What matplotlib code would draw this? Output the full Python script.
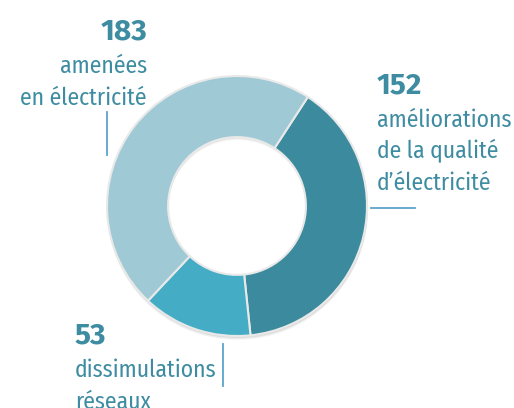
import matplotlib.pyplot as plt
from matplotlib.patches import Wedge

# données
valeurs = [152, 53, 183]
libelles = [["améliorations", "de la qualité", "d\u2019électricité"],
            ["dissimulations", "réseaux"],
            ["amenées", "en électricité"]]
couleurs = ["#3b8a9e", "#44adc5", "#9fc9d5"]

W, H = 514, 408
fig = plt.figure(figsize=(W / 100, H / 100), dpi=100)
ax = fig.add_axes([0, 0, 1, 1])

def py(y):
    # coordonnées image (origine en haut) -> axes
    return H - y

cx, cy, r = 237, py(206), 130
largeur = 0.47

# ombre légère
for k, a in [(3.5, 0.05), (2.5, 0.07), (1.5, 0.09)]:
    ax.add_patch(Wedge((cx + 0.5, cy - k), r + 0.5, 0, 360, width=r * largeur,
                       facecolor="#555555", alpha=a, lw=0, zorder=1))

ax.pie(valeurs, colors=couleurs, startangle=57, counterclock=False,
       center=(cx, cy), radius=r, frame=True,
       wedgeprops=dict(width=r * largeur, edgecolor="#e9e9e9", linewidth=1.5, zorder=2))
ax.set_xlim(0, W)
ax.set_ylim(0, H)
ax.set_aspect("equal")
ax.axis("off")

coul_txt = "#3d8ca1"
coul_trait = "#5ba2cc"
police_num = ["Fira Sans", "Fira Sans Condensed", "DejaVu Sans"]
police = ["Fira Sans Condensed", "PT Sans Narrow", "DejaVu Sans"]
fs_num, fs_lib = 21.5, 17

def bloc(x, ha, y_num, ys, val, lignes):
    ax.text(x, py(y_num), str(val), ha=ha, va="baseline", fontsize=fs_num,
            fontweight="bold", color=coul_txt, family=police_num)
    for y, t in zip(ys, lignes):
        ax.text(x, py(y), t, ha=ha, va="baseline", fontsize=fs_lib,
                color=coul_txt, family=police)

# 183
bloc(147, "right", 40, [73, 105], valeurs[2], libelles[2])
ax.plot([107, 107], [py(112), py(155)], color=coul_trait, lw=1.3)

# 152
bloc(377, "left", 93, [127, 158, 190], valeurs[0], libelles[0])
ax.plot([371, 415], [py(208), py(208)], color=coul_trait, lw=1.3)

# 53
bloc(75, "left", 344, [377, 409], valeurs[1], libelles[1])
ax.plot([223, 223], [py(344), py(386)], color=coul_trait, lw=1.3)

fig.savefig("out.png", dpi=100)
